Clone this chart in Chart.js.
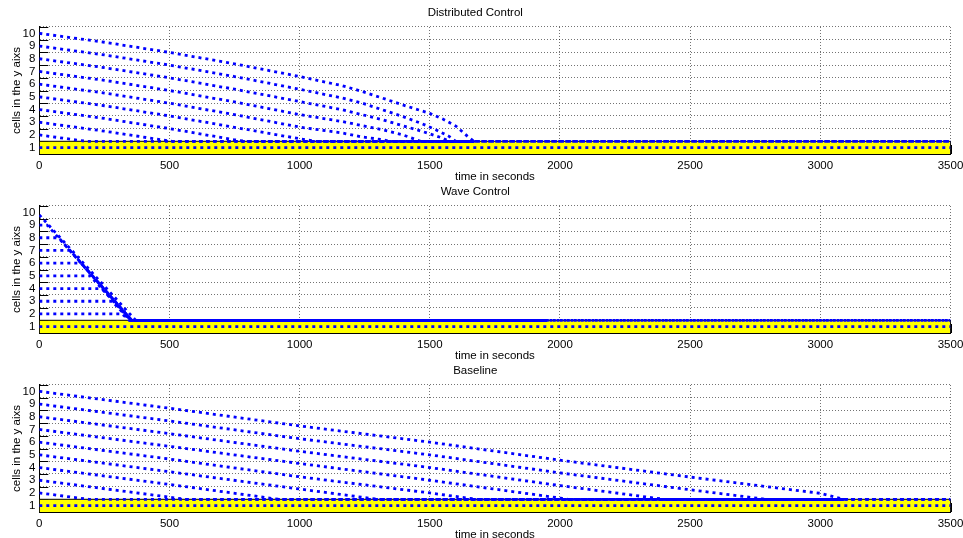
<!DOCTYPE html>
<html>
<head>
<meta charset="utf-8">
<script src="https://cdn.jsdelivr.net/npm/chart.js@4.4.1/dist/chart.umd.min.js"></script>
<style>
  html, body { margin: 0; padding: 0; background: #fff; overflow: hidden; }
  .panel { position: absolute; left: 0; width: 963px; height: 183px; }
</style>
</head>
<body>
<div class="panel" style="top:0"><canvas id="distChart" width="963" height="183"></canvas></div>
<div class="panel" style="top:179px"><canvas id="waveChart" width="963" height="183"></canvas></div>
<div class="panel" style="top:358px"><canvas id="baseChart" width="963" height="183"></canvas></div>
<script>
// axis values
const timeTicks = [0, 500, 1000, 1500, 2000, 2500, 3000, 3500];
const cellTicks = [1, 2, 3, 4, 5, 6, 7, 8, 9, 10];
const bandLow = 0.5;
const bandHigh = 1.5;

// Distributed Control: [time, cell] for each cell, 1 -> 10
const distCells = [
  [[0, 1], [3500, 1]],
  [[0, 2], [100, 1.72], [180, 1.5], [1670, 1.5]],
  [[0, 3], [250, 2.3], [500, 1.52], [510, 1.5], [1670, 1.5]],
  [[0, 4], [250, 3.3], [500, 2.5], [750, 1.62], [790, 1.5], [1670, 1.5]],
  [[0, 5], [250, 4.3], [500, 3.5], [750, 2.6], [1000, 1.7], [1060, 1.5], [1670, 1.5]],
  [[0, 6], [250, 5.3], [500, 4.5], [750, 3.6], [1000, 2.62], [1165, 2.15], [1241, 1.84], [1318, 1.63], [1345, 1.5], [1670, 1.5]],
  [[0, 7], [250, 6.3], [500, 5.5], [750, 4.6], [1000, 3.6], [1165, 3.05], [1241, 2.73], [1318, 2.41], [1395, 2.02], [1448, 1.63], [1465, 1.5], [1670, 1.5]],
  [[0, 8], [250, 7.3], [500, 6.5], [750, 5.6], [1000, 4.63], [1165, 3.98], [1241, 3.59], [1318, 3.2], [1395, 2.73], [1471, 2.28], [1548, 1.76], [1575, 1.5], [1670, 1.5]],
  [[0, 9], [250, 8.3], [500, 7.5], [750, 6.6], [1000, 5.6], [1165, 4.9], [1241, 4.5], [1318, 3.98], [1395, 3.46], [1471, 2.88], [1523, 2.41], [1574, 1.89], [1600, 1.5], [3500, 1.5]],
  [[0, 10], [250, 9.3], [500, 8.5], [750, 7.6], [1000, 6.6], [1165, 5.87], [1241, 5.42], [1318, 4.9], [1395, 4.37], [1500, 3.7], [1550, 3.25], [1600, 2.7], [1650, 1.8], [1670, 1.5], [3500, 1.5]]
];

// Wave Control
const waveCells = [
  [[0, 1], [3500, 1]],
  [[0, 2], [318, 2], [345, 1.5], [1950, 1.5]],
  [[0, 3], [280, 3], [348, 1.5], [1950, 1.5]],
  [[0, 4], [240, 4], [350, 1.5], [1950, 1.5]],
  [[0, 5], [195, 5], [352, 1.5], [1950, 1.5]],
  [[0, 6], [160, 6], [355, 1.5], [1950, 1.5]],
  [[0, 7], [118, 7], [355, 1.5], [1950, 1.5]],
  [[0, 8], [75, 8], [355, 1.5], [1950, 1.5]],
  [[0, 9], [30, 9], [355, 1.5], [3500, 1.5]],
  [[0, 9.8], [370, 1.5], [3500, 1.5]]
];

// Baseline
const baseCells = [
  [[0, 1], [3500, 1]],
  [[0, 2], [190, 1.5], [3090, 1.5]],
  [[0, 3], [500, 1.67], [560, 1.5], [3090, 1.5]],
  [[0, 4], [500, 2.67], [920, 1.5], [3090, 1.5]],
  [[0, 5], [500, 3.67], [1000, 2.31], [1300, 1.5], [3090, 1.5]],
  [[0, 6], [500, 4.67], [1000, 3.27], [1500, 2.0], [1680, 1.5], [3090, 1.5]],
  [[0, 7], [500, 5.67], [1000, 4.32], [1500, 3.0], [2000, 1.6], [2030, 1.5], [3090, 1.5]],
  [[0, 8], [500, 6.67], [1000, 5.28], [1500, 4.0], [2000, 2.58], [2400, 1.5], [3090, 1.5]],
  [[0, 9], [500, 7.67], [1000, 6.27], [1500, 5.0], [2000, 3.58], [2500, 2.25], [2790, 1.5], [3500, 1.5]],
  [[0, 10], [500, 8.67], [1000, 7.28], [1500, 6.0], [2000, 4.58], [2500, 3.25], [3000, 1.97], [3090, 1.5], [3500, 1.5]]
];

Chart.defaults.font.family = '"Liberation Sans", Arial, Helvetica, sans-serif';
Chart.defaults.font.size = 11.5;
Chart.defaults.color = '#111';

const BLUE = 'rgb(0, 0, 255)';
const GRID = 'rgba(0, 0, 0, 0.55)';
const xMin = timeTicks[0];
const xMax = timeTicks[timeTicks.length - 1];

// matlab style ticks pointing into the plot
const innerTicks = {
  id: 'innerTicks',
  beforeDatasetsDraw(chart) {
    const { ctx, chartArea: a, scales: { x, y } } = chart;
    ctx.save();
    ctx.strokeStyle = '#000';
    ctx.lineWidth = 1;
    ctx.beginPath();
    cellTicks.forEach((c) => {
      const py = Math.round(y.getPixelForValue(c + 0.5)) + 0.5;
      ctx.moveTo(a.left, py);
      ctx.lineTo(a.left + 9, py);
    });
    timeTicks.forEach((t) => {
      const px = Math.round(x.getPixelForValue(t)) + 0.5;
      ctx.moveTo(px, a.bottom);
      ctx.lineTo(px, a.bottom - 9);
    });
    ctx.stroke();
    ctx.restore();
  }
};

function makeChart(id, title, cells) {
  const datasets = cells.map((path) => ({
    data: path.map(([t, c]) => ({ x: t, y: c })),
    borderColor: BLUE,
    borderWidth: 2.8,
    borderDash: [3, 4],
    borderCapStyle: 'butt',
    pointRadius: 0,
    fill: false,
    tension: 0
  }));
  // yellow patch for cell 1, drawn below everything
  datasets.push({
    data: [
      { x: xMin, y: bandLow }, { x: xMin, y: bandHigh },
      { x: xMax, y: bandHigh }, { x: xMax, y: bandLow }
    ],
    borderColor: '#000',
    borderWidth: 1,
    backgroundColor: 'rgb(255, 255, 0)',
    pointRadius: 0,
    fill: { value: bandLow },
    tension: 0
  });

  new Chart(document.getElementById(id), {
    type: 'line',
    data: { datasets },
    options: {
      responsive: false,
      animation: false,
      devicePixelRatio: 1,
      layout: { padding: { top: 2.2, right: 12.5, left: 0, bottom: 0 } },
      plugins: {
        legend: { display: false },
        tooltip: { enabled: false },
        title: {
          display: true,
          text: title,
          color: '#000',
          font: { size: 11.5, weight: 'normal' },
          padding: { top: 3.5, bottom: 7.5 }
        }
      },
      scales: {
        x: {
          type: 'linear',
          min: xMin,
          max: xMax,
          afterBuildTicks: (s) => { s.ticks = timeTicks.map((v) => ({ value: v })); },
          afterFit: (s) => { s.height = 29; s.paddingLeft = 0; s.paddingRight = 0; },
          ticks: { padding: 5, color: '#000', maxRotation: 0, callback: (v) => String(v) },
          grid: {
            drawTicks: false,
            color: (c) => (c.tick && c.tick.value > xMin ? GRID : 'rgba(0,0,0,0)'),
            lineWidth: 1
          },
          border: { display: true, color: '#000', width: 1, dash: [1, 2] },
          title: { display: true, text: 'time in seconds', color: '#000', padding: { top: 0, bottom: -1 } }
        },
        y: {
          type: 'linear',
          min: bandLow,
          max: 10.5,
          afterBuildTicks: (s) => {
            const vals = [bandLow];
            cellTicks.forEach((c) => vals.push(c, c + 0.5));
            s.ticks = vals.map((v) => ({ value: v }));
          },
          afterFit: (s) => { s.width = 39.3; s.paddingTop = 0; s.paddingBottom = 0; },
          ticks: {
            autoSkip: false,
            padding: 4,
            color: '#000',
            callback: (v) => (Number.isInteger(v) ? String(v) : '')
          },
          grid: {
            drawTicks: false,
            color: (c) => (c.tick && !Number.isInteger(c.tick.value) && c.tick.value > bandHigh ? GRID : 'rgba(0,0,0,0)'),
            lineWidth: 1
          },
          border: { display: true, color: '#000', width: 1, dash: [1, 2] },
          title: { display: true, text: 'cells in the y aixs', color: '#000', padding: { top: 10, bottom: 0 } }
        }
      }
    },
    plugins: [innerTicks]
  });
}

makeChart('distChart', 'Distributed Control', distCells);
makeChart('waveChart', 'Wave Control', waveCells);
makeChart('baseChart', 'Baseline', baseCells);
</script>
</body>
</html>
